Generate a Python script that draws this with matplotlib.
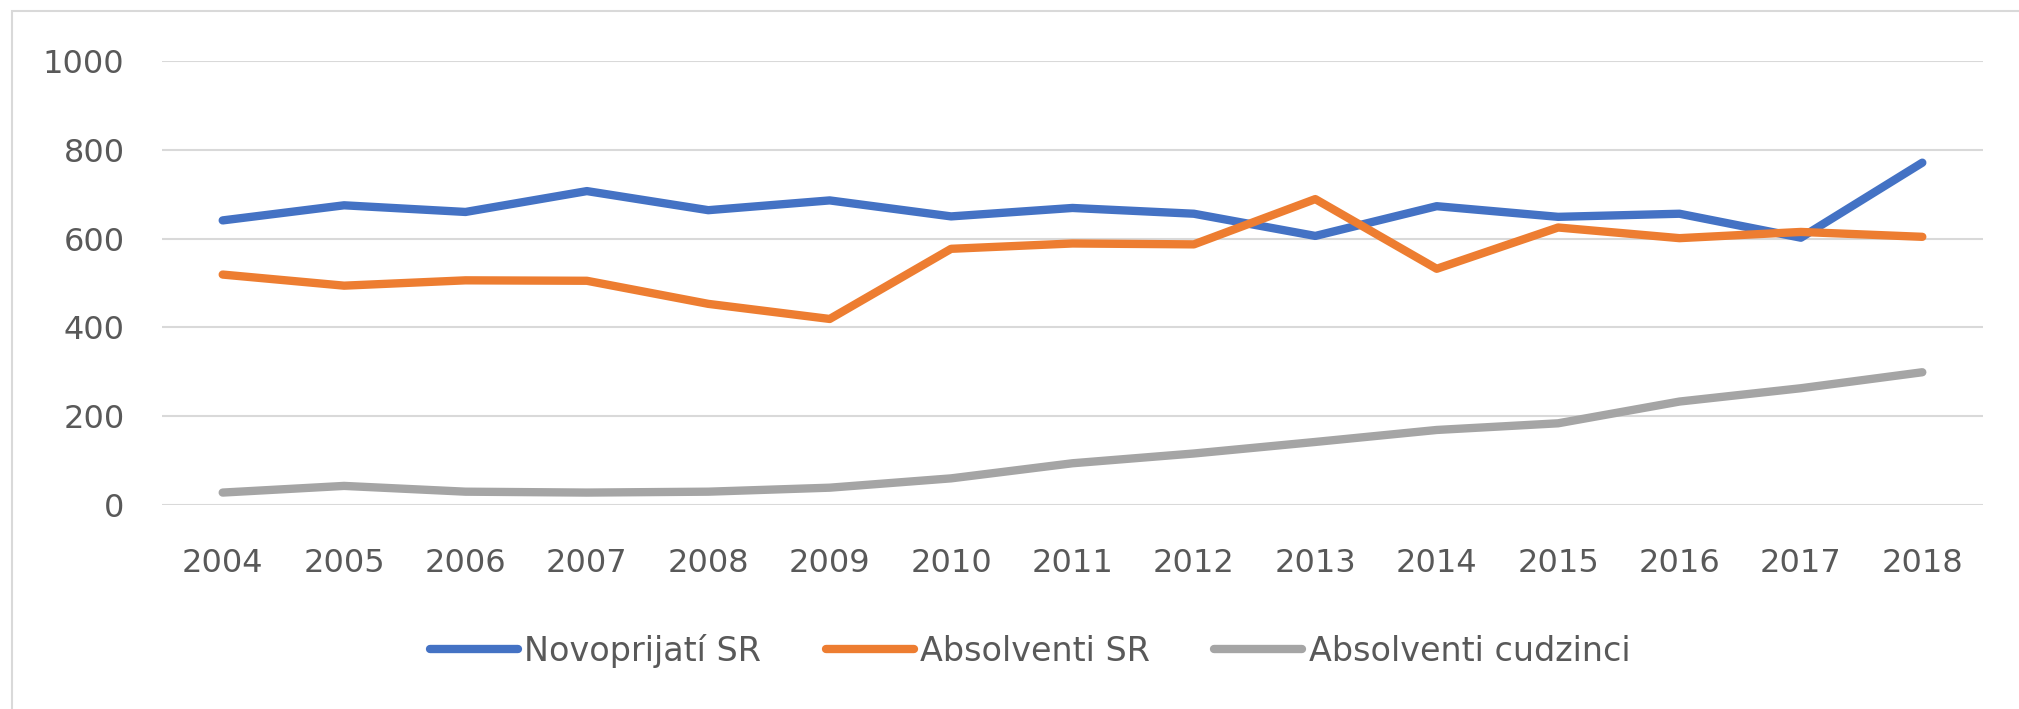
import matplotlib
matplotlib.use("Agg")
import matplotlib.pyplot as plt
from matplotlib.patches import Rectangle

years = ["2004", "2005", "2006", "2007", "2008", "2009", "2010", "2011",
         "2012", "2013", "2014", "2015", "2016", "2017", "2018"]
novoprijati_sr = [641, 675, 660, 707, 664, 686, 650, 669, 656, 606, 673, 649, 656, 602, 771]
absolventi_sr = [519, 494, 506, 505, 453, 419, 577, 589, 587, 689, 532, 625, 601, 615, 604]
absolventi_cudzinci = [28, 43, 30, 28, 30, 39, 60, 94, 116, 142, 169, 184, 233, 263, 299]
series_names = ["Novoprijatí SR", "Absolventi SR", "Absolventi cudzinci"]
colors = ["#4472C4", "#ED7D31", "#A5A5A5"]
y_ticks = [0, 200, 400, 600, 800, 1000]

plt.rcParams['font.family'] = ['DejaVu Sans']

W, H = 2019, 709
fig = plt.figure(figsize=(W / 100, H / 100), dpi=100)
fig.patch.set_facecolor("white")

left, right, bottom, top = 162, 1983, 505, 61
ax = fig.add_axes([left / W, 1 - bottom / H, (right - left) / W, (bottom - top) / H])

x = list(range(len(years)))
for vals, name, c in zip([novoprijati_sr, absolventi_sr, absolventi_cudzinci], series_names, colors):
    ax.plot(x, vals, color=c, lw=6, solid_capstyle='round', solid_joinstyle='round', label=name)

ax.set_xlim(-0.5, len(years) - 0.5)
ax.set_ylim(0, 1000)
ax.set_yticks(y_ticks)
ax.set_yticklabels([str(v) for v in y_ticks])
ax.set_xticks(x)
ax.set_xticklabels(years)
ax.grid(axis='y', color='#D9D9D9', lw=1.5)
ax.set_axisbelow(True)
for s in ax.spines.values():
    s.set_visible(False)
ax.tick_params(axis='both', length=0, labelsize=23, labelcolor='#595959')
ax.tick_params(axis='y', pad=27)
ax.tick_params(axis='x', pad=31)

leg = fig.legend(loc='center', bbox_to_anchor=(1030 / W, 1 - 651 / H), ncol=3,
                 frameon=False, fontsize=24, handlelength=2.64, handletextpad=0.19,
                 columnspacing=1.93, labelcolor='#595959')
for line in leg.get_lines():
    line.set_linewidth(6)
    line.set_solid_capstyle('round')

# outer chart frame
fig.patches.append(Rectangle((12 / W, -0.1), 1.2, 1 - 11 / H + 0.1, transform=fig.transFigure,
                             fill=False, edgecolor='#D9D9D9', lw=1.5))

fig.savefig("out.png", dpi=100, facecolor="white")
